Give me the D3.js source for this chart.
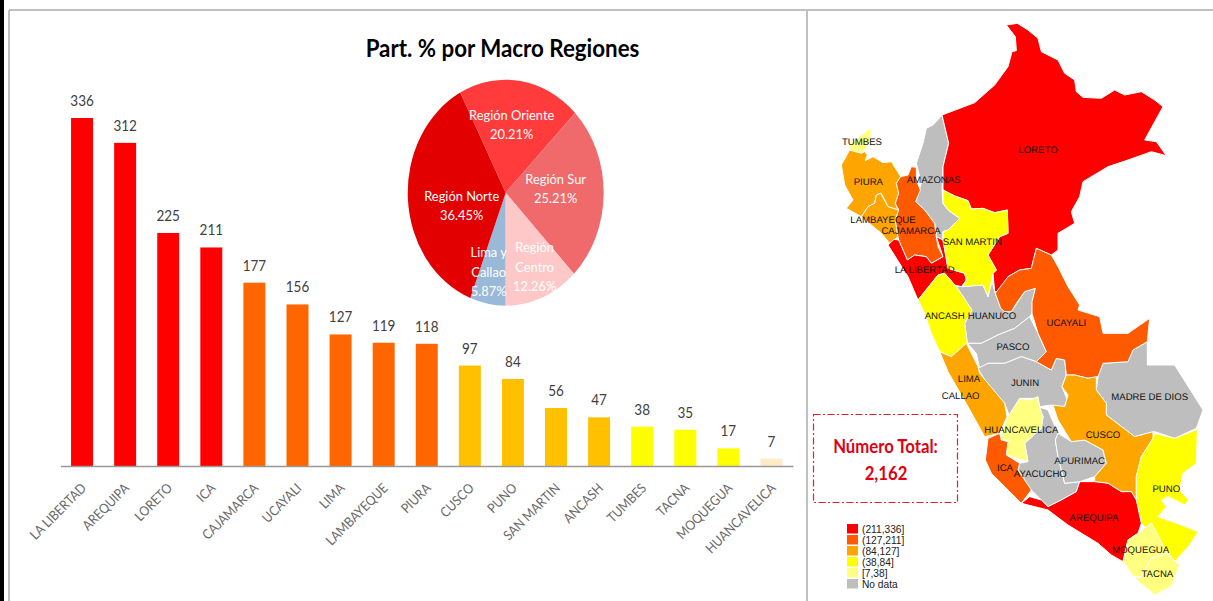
<!DOCTYPE html>
<html><head><meta charset="utf-8">
<script src="https://cdn.jsdelivr.net/npm/d3@7"></script>
<style>html,body{margin:0;padding:0;background:#fff;overflow:hidden}svg{display:block}</style>
</head><body><svg id="c" width="1213" height="601"></svg>
<script>
const categories=["LA LIBERTAD","AREQUIPA","LORETO","ICA","CAJAMARCA","UCAYALI","LIMA","LAMBAYEQUE","PIURA","CUSCO","PUNO","SAN MARTIN","ANCASH","TUMBES","TACNA","MOQUEGUA","HUANCAVELICA"];
const values=[336,312,225,211,177,156,127,119,118,97,84,56,47,38,35,17,7];
const pieNames=[["Lima y","Callao"],["Región Norte"],["Región Oriente"],["Región Sur"],["Región","Centro"]];
const pieShares=[5.87,36.45,20.21,25.21,12.26];
const pieColors=["#9AB8D8","#E30000","#FF3B3B","#F0696B","#FFC8C8"];
const barThresholds=[10,40,100,200];
const barColors=["#FDEBC8","#FFFF00","#FFC000","#FF6600","#FF0000"];
const legendLabels=["(211,336]","(127,211]","(84,127]","(38,84]","[7,38]","No data"];
const mapThresholds=[39,85,128,212];
const mapColors=["#FFFF80","#FFFF00","#FFA500","#FF5A00","#FF0000"];
const noData="#BEBEBE";
const totalLabel="Número Total:",totalValue="2,162";

// Department outlines, in map units
const mapRings={
"AMAZONAS":[[402,315],[422,400],[405,470],[402,540],[405,580],[420,600],[455,625],[420,660],[405,665],[405,690],[385,680],[380,640],[350,600],[323,575],[340,520],[325,460],[345,400],[355,355],[375,345]],
"HUANUCO":[[445,830],[525,825],[540,860],[552,815],[562,850],[590,905],[610,905],[650,845],[682,835],[672,910],[665,920],[620,955],[570,975],[520,1000],[478,1000],[470,940],[492,900]],
"PASCO":[[478,1000],[520,1000],[570,975],[620,955],[665,920],[690,970],[715,1025],[685,1055],[640,1040],[590,1060],[540,1060],[515,1075],[505,1030]],
"JUNIN":[[510,1075],[540,1060],[590,1060],[640,1040],[685,1055],[730,1080],[745,1045],[770,1050],[775,1095],[762,1130],[780,1175],[760,1195],[730,1185],[695,1190],[690,1165],[640,1165],[605,1220],[590,1180],[545,1135]],
"AYACUCHO":[[690,1190],[720,1200],[750,1270],[742,1290],[750,1340],[770,1420],[815,1415],[805,1445],[760,1470],[720,1490],[700,1470],[670,1440],[630,1380],[635,1360],[660,1355],[650,1300],[700,1255],[705,1220]],
"APURIMAC":[[742,1290],[750,1270],[790,1295],[830,1290],[885,1320],[895,1360],[860,1400],[815,1415],[770,1420],[750,1340]],
"MADRE DE DIOS":[[885,1060],[960,1055],[975,1020],[1018,995],[1018,1065],[1100,1065],[1185,1200],[1165,1255],[1100,1285],[1040,1265],[980,1280],[895,1215],[895,1180],[865,1140],[870,1100]],
"LORETO":[[595,45],[628,40],[660,60],[690,85],[700,125],[750,150],[770,190],[800,210],[805,245],[825,262],[880,265],[920,240],[950,255],[1000,245],[1040,270],[1065,290],[1010,390],[1045,395],[1075,437],[1030,425],[960,450],[900,470],[825,515],[815,560],[790,605],[800,640],[750,670],[750,720],[730,735],[685,715],[670,775],[635,780],[600,800],[575,845],[560,845],[555,790],[565,780],[540,735],[575,680],[600,670],[598,600],[560,608],[525,595],[490,597],[480,572],[440,558],[405,540],[405,470],[422,400],[402,315],[500,278],[560,225],[600,170],[612,125],[625,122],[622,80]],
"TUMBES":[[190,352],[188,395],[170,420],[160,430],[125,420],[125,405],[160,375]],
"PIURA":[[125,420],[160,430],[170,425],[178,435],[172,452],[195,440],[225,458],[250,455],[278,500],[265,520],[272,550],[262,580],[270,600],[240,590],[220,550],[205,555],[200,580],[180,590],[160,620],[115,595],[135,570],[110,525],[100,465]],
"LAMBAYEQUE":[[218,550],[240,590],[272,600],[262,630],[270,680],[245,700],[220,670],[160,620],[180,590],[200,580],[205,555]],
"CAJAMARCA":[[310,470],[325,472],[325,510],[337,540],[323,575],[350,600],[380,640],[385,680],[390,710],[405,740],[370,760],[355,740],[320,735],[298,750],[272,690],[270,680],[262,630],[272,600],[262,580],[272,550],[265,520],[278,500],[300,495]],
"LA LIBERTAD":[[258,688],[272,690],[298,750],[320,735],[355,740],[370,760],[405,740],[385,680],[405,690],[420,775],[470,790],[475,810],[460,830],[440,825],[410,790],[390,795],[330,870],[300,800],[240,705]],
"SAN MARTIN":[[405,540],[440,558],[480,572],[490,597],[525,595],[560,608],[598,600],[600,670],[575,680],[540,735],[565,780],[555,790],[550,815],[540,860],[525,825],[465,830],[475,810],[470,790],[420,775],[405,690],[405,665],[420,660],[455,625],[420,600],[405,580]],
"ANCASH":[[330,870],[390,795],[410,790],[445,830],[492,900],[470,940],[478,1000],[430,1040],[395,1025],[370,970],[350,910]],
"UCAYALI":[[685,715],[730,735],[750,770],[780,830],[815,885],[810,900],[875,920],[885,970],[960,970],[1025,925],[1018,995],[975,1020],[960,1055],[885,1060],[870,1100],[840,1105],[800,1095],[775,1095],[770,1050],[745,1045],[730,1080],[685,1055],[715,1025],[690,970],[672,910],[672,875],[682,835],[650,845],[625,880],[610,905],[590,905],[578,895],[562,850],[600,800],[635,780],[670,775]],
"LIMA":[[395,1025],[430,1040],[475,1000],[510,1070],[515,1090],[590,1180],[597,1220],[575,1270],[530,1280],[480,1190],[420,1085]],
"HUANCAVELICA":[[635,1165],[665,1170],[690,1160],[695,1190],[705,1220],[700,1255],[650,1300],[660,1355],[595,1335],[600,1290],[575,1290],[600,1220]],
"ICA":[[540,1285],[575,1270],[580,1290],[600,1295],[595,1335],[635,1360],[630,1380],[670,1440],[640,1480],[600,1440],[550,1390],[532,1350]],
"CUSCO":[[775,1095],[800,1095],[840,1105],[865,1100],[865,1140],[895,1180],[895,1215],[980,1280],[1035,1265],[1035,1285],[1000,1340],[985,1400],[985,1470],[970,1445],[940,1445],[900,1420],[860,1415],[860,1400],[895,1360],[885,1320],[830,1290],[790,1295],[750,1230],[735,1185],[770,1190],[780,1155],[762,1130]],
"PUNO":[[1040,1270],[1100,1285],[1168,1258],[1165,1360],[1125,1390],[1115,1440],[1142,1470],[1130,1485],[1080,1460],[1060,1470],[1075,1490],[1050,1520],[1120,1545],[1170,1565],[1145,1605],[1100,1655],[1070,1615],[1030,1570],[1000,1540],[985,1470],[985,1400],[1000,1340],[1035,1285]],
"AREQUIPA":[[815,1415],[860,1415],[900,1420],[940,1445],[970,1445],[985,1470],[1000,1540],[990,1570],[960,1590],[945,1655],[910,1635],[870,1600],[780,1545],[720,1500],[640,1480],[665,1460],[700,1470],[720,1490],[760,1470],[805,1445]],
"MOQUEGUA":[[1030,1538],[1070,1615],[1085,1630],[1030,1645],[1000,1700],[975,1700],[950,1660],[945,1655],[960,1590],[990,1570]],
"TACNA":[[1000,1700],[1030,1645],[1075,1630],[1115,1665],[1090,1730],[1040,1755],[980,1705]]
};
const mapLabelNames=["LORETO","TUMBES","PIURA","AMAZONAS","LAMBAYEQUE","CAJAMARCA","SAN MARTIN","LA LIBERTAD","ANCASH","HUANUCO","UCAYALI","PASCO","LIMA","JUNIN","CALLAO","MADRE DE DIOS","HUANCAVELICA","CUSCO","APURIMAC","ICA","AYACUCHO","PUNO","AREQUIPA","MOQUEGUA","TACNA"];
const mapLabelX=[690,162,181,377,225,309,493,350,410,552,775,615,483,651,458,1025,640,885,815,591,697,1075,858,998,1048];
const mapLabelY=[420,395,515,510,629,661,694,778,917,918,937,1011,1105,1118,1156,1160,1258,1273,1351,1372,1392,1437,1522,1618,1692];

const svg=d3.select("#c");
const F="Lato,'Open Sans',sans-serif",A="'Liberation Sans',Arial,sans-serif";
function condensed(g,t,px,py,sx,size,weight,fill){
  return g.append("text").attr("transform",`translate(${px},${py}) scale(${sx},1)`).attr("text-anchor","middle")
   .attr("font-family",F).attr("font-size",size).attr("font-weight",weight).attr("fill",fill).text(t);
}

// frame
const frame=svg.append("g").attr("stroke","#C0C0C0").attr("stroke-width",2);
frame.append("line").attr("x1",9).attr("x2",1213).attr("y1",10).attr("y2",10);
frame.append("line").attr("x1",9).attr("x2",9).attr("y1",10).attr("y2",601);
frame.append("line").attr("x1",807).attr("x2",807).attr("y1",10).attr("y2",601);
svg.append("rect").attr("x",0).attr("y",0).attr("width",4).attr("height",601).attr("fill","#000");

// title
condensed(svg,"Part. % por Macro Regiones",502.5,57,0.93,24,700,"#000");

// bars
const x=d3.scaleBand().domain(categories).range([60.5,793]).paddingInner(0.49).paddingOuter(0.245);
const y=d3.scaleLinear().domain([0,336]).range([466,118]);
const barColor=d3.scaleThreshold().domain(barThresholds).range(barColors);
svg.append("g").selectAll("rect").data(values).join("rect")
 .attr("x",(d,i)=>x(categories[i])).attr("width",x.bandwidth())
 .attr("y",d=>y(d)).attr("height",d=>y(0)-y(d)).attr("fill",d=>barColor(d));
const vl=svg.append("g");
values.forEach((d,i)=>condensed(vl,d,x(categories[i])+x.bandwidth()/2,y(d)-12,0.93,14.5,400,"#404040"));
const ax=svg.append("g").attr("transform","translate(0,466)").call(d3.axisBottom(x).tickSize(0));
ax.select(".domain").attr("stroke","#999").attr("stroke-width",1.6);
ax.selectAll("text").attr("font-family",F).attr("font-size",13.5).attr("fill","#6a6a6a")
 .attr("text-anchor","end").attr("dy",0).attr("y",0).attr("transform","translate(5,23) rotate(-45) scale(0.9,1)");

// pie
const pieG=svg.append("g").attr("transform","translate(505.7,192.7) scale(0.867,1)");
const arcs=d3.pie().sort(null).startAngle(Math.PI).endAngle(3*Math.PI)(pieShares);
const arc=d3.arc().innerRadius(0).outerRadius(113);
pieG.selectAll("path").data(arcs).join("path").attr("d",arc).attr("fill",(d,i)=>pieColors[i]);
const pieCx=[-17,-44,6,50,29],pieCy=[79,13,-68,-4,74];
const lg=svg.append("g");
pieNames.forEach((lines,i)=>{
  const all=lines.concat([pieShares[i].toFixed(2)+"%"]);
  all.forEach((t,k)=>condensed(lg,t,505.7+pieCx[i],192.7+pieCy[i]+(k-(all.length-1)/2)*19.5+5,0.92,14,400,"#fff"));
});

// map
const mx=d3.scaleLinear().domain([0,1215]).range([808,1213]);
const my=d3.scaleLinear().domain([0,1800]).range([10,610]);
const ln=d3.line().x(d=>mx(d[0])).y(d=>my(d[1])).curve(d3.curveLinearClosed);
const valueOf=new Map(categories.map((c,i)=>[c,values[i]]));
const mapColor=d3.scaleThreshold().domain(mapThresholds).range(mapColors);
svg.append("g").selectAll("path").data(Object.keys(mapRings)).join("path")
 .attr("d",k=>ln(mapRings[k])).attr("fill",k=>valueOf.has(k)?mapColor(valueOf.get(k)):noData)
 .attr("stroke","#fff").attr("stroke-width",1).attr("stroke-linejoin","round");
svg.append("g").attr("font-family",A).attr("font-size",9.6).attr("fill","#111").attr("text-anchor","middle").attr("text-rendering","geometricPrecision")
 .selectAll("text").data(mapLabelNames).join("text")
 .attr("x",(d,i)=>mx(mapLabelX[i])).attr("y",(d,i)=>my(mapLabelY[i])+3.4).text(d=>d);

// total box
svg.append("rect").attr("x",813.5).attr("y",414.5).attr("width",144).attr("height",88).attr("fill","none")
 .attr("stroke","#E2202C").attr("stroke-width",1.2).attr("stroke-dasharray","7 2.5 2 2.5");
condensed(svg,totalLabel,885.5,453,0.88,19,700,"#E00010");
condensed(svg,totalValue,886,480,0.88,19,700,"#E00010");

// legend
const legendColors=mapColors.slice().reverse().concat([noData]);
const lgY=d3.scalePoint().domain(legendLabels).range([524,579]);
const leg=svg.append("g");
leg.selectAll("rect").data(legendLabels).join("rect").attr("x",847).attr("y",d=>lgY(d)).attr("width",11).attr("height",9.5).attr("fill",(d,i)=>legendColors[i]);
leg.selectAll("text").data(legendLabels).join("text").attr("x",862).attr("y",d=>lgY(d)+9).attr("font-family",A).attr("font-size",10.2).attr("fill","#222").text(d=>d);
</script></body></html>
